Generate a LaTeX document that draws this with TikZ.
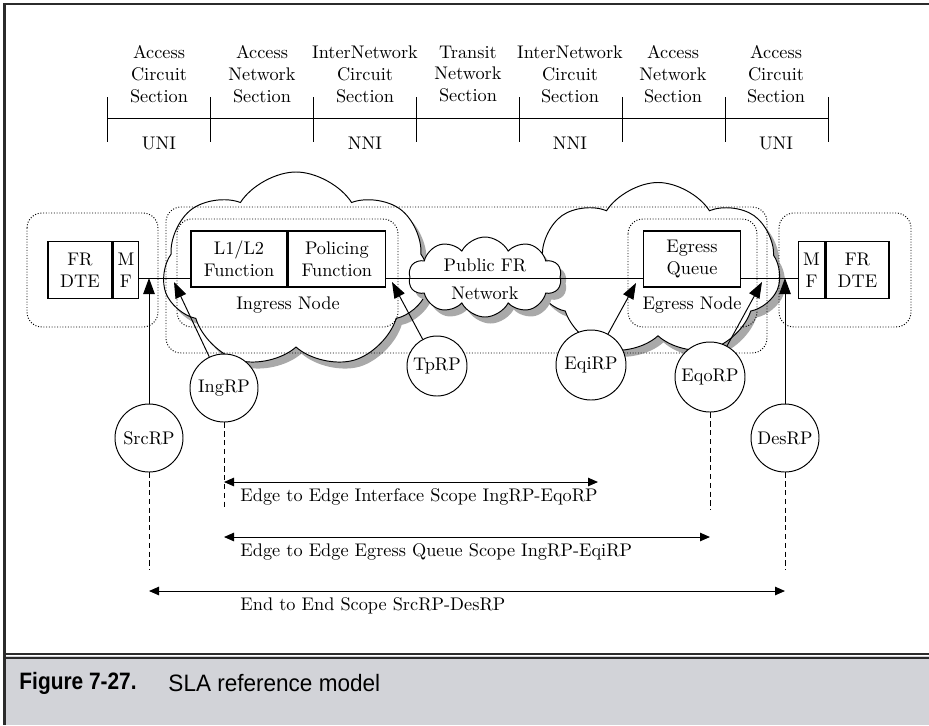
\documentclass[tikz,border=0pt]{standalone}
\usepackage{fontspec}
\usepackage{tikz}
\usetikzlibrary{calc,positioning,shapes.symbols,shadows,arrows.meta}
\newfontfamily\capfont[FakeStretch=0.95]{Liberation Sans}
\newfontfamily\capboldfont[FakeStretch=0.88]{Liberation Sans}
\definecolor{capgray}{HTML}{D2D3D8}
\definecolor{framedark}{HTML}{2B2B2B}
\definecolor{puffshadow}{HTML}{A9A9A9}

\begin{document}
\begin{tikzpicture}[x=0.2mm,y=-0.2mm,line width=0.55pt,
    font=\fontsize{10.4}{12.5}\selectfont,
    lbl/.style={align=center,inner sep=0pt},
    fnbox/.style={draw,fill=white,align=center,inner sep=1pt,line width=0.8pt,minimum height=11.2mm},
    zone/.style={draw,densely dotted,rounded corners=3mm},
    puff/.style={cloud,draw,fill=white,cloud puffs=7,cloud puff arc=115,
      drop shadow={shadow xshift=1.1mm,shadow yshift=-1.3mm,fill=puffshadow,opacity=1}},
    rp/.style={circle,draw,fill=white,minimum size=13.6mm,inner sep=0pt},
    rparrow/.style={-{Triangle[length=3.2mm,width=2.3mm]}},
    spanarrow/.style={{Triangle[length=2mm,width=1.7mm]}-{Triangle[length=2mm,width=1.7mm]}},
    dropline/.style={dash pattern=on 3pt off 2pt}]
  \useasboundingbox (0,0) rectangle (929,725);

  % frame and caption strip
  \fill[capgray] (4,656) rectangle (929,725);
  \draw[framedark,line width=0.45mm] (929,3.7) -- (4.5,3.7) -- (4.5,725);
  \draw[framedark,line width=0.4mm] (4.5,654) -- (929,654);
  \draw[framedark,line width=0.4mm] (4.5,658) -- (929,658);
  \node[anchor=west,inner sep=0pt,font={\capboldfont\bfseries\fontsize{13.5}{15}\selectfont}] (figno) at (19,683) {Figure 7-27.};
  \node[anchor=west,inner sep=0pt,font={\capfont\fontsize{13.5}{15}\selectfont}] (figtitle) at (168,683) {SLA reference model};

  % section scale
  \draw (107,118) -- (828,118);
  \foreach \x in {107,210,...,828}
    \draw (\x,97) -- (\x,142);
  \foreach \lab/\x [count=\i] in {%
    Access\\Circuit\\Section/159, Access\\Network\\Section/262,
    InterNetwork\\Circuit\\Section/365, Transit\\Network\\Section/468,
    InterNetwork\\Circuit\\Section/570, Access\\Network\\Section/673,
    Access\\Circuit\\Section/776%
  } {
    \node[lbl] (sec\i) at (\x,74) {\lab};
  }
  \foreach \lab/\x [count=\i] in {UNI/159, NNI/365, NNI/570, UNI/776}
    \node[lbl] (itf\i) at (\x,143) {\lab};

  % network clouds
  \node[puff,minimum width=53.4mm,minimum height=39.6mm] (ingcloud) at (296,271) {};
  \node[puff,minimum width=49mm,minimum height=35mm,shape border rotate=20] (egrcloud) at (658,270) {};
  \node[puff,cloud puffs=10,cloud puff arc=125,minimum width=30.6mm,minimum height=16mm] (pubcloud) at (485,277) {};
  \node[lbl] (pubtop) at (485,265) {Public FR};
  \node[lbl] (pubbot) at (485,293) {Network};

  % dotted zones
  \draw[zone] (27,213) rectangle (158,327);
  \draw[zone] (166,207) rectangle (767,353);
  \draw[zone] (177,219) rectangle (398,327);
  \draw[zone] (628,219) rectangle (757,327);
  \draw[zone] (779,213) rectangle (911,327);

  % function boxes
  \node[fnbox,minimum width=12.8mm,minimum height=11.4mm] (ldte) at (80,270) {FR\\DTE};
  \node[fnbox,minimum width=5mm,minimum height=11.4mm,anchor=west] (lmf) at (ldte.east) {M\\F};
  \node[fnbox,minimum width=19.2mm] (l12) at (239,259) {L1/L2\\Function};
  \node[fnbox,minimum width=19.4mm,anchor=west] (police) at (l12.east) {Policing\\Function};
  \node[fnbox,minimum width=19.4mm] (queue) at (692,259) {Egress\\Queue};
  \node[fnbox,minimum width=12.6mm,minimum height=11.4mm] (rdte) at (857.5,270) {FR\\DTE};
  \node[fnbox,minimum width=5.2mm,minimum height=11.4mm,anchor=east] (rmf) at (rdte.west) {M\\F};
  \node[lbl] (ingname) at (288,305) {Ingress Node};
  \node[lbl] (egrname) at (692,305) {Egress Node};

  % data path
  \coordinate (wire) at (0,278);
  \draw (lmf.east |- wire) -- (l12.west |- wire);
  \draw (police.east |- wire) -- (queue.west |- wire);
  \draw (queue.east |- wire) -- (rmf.west |- wire);

  % reference points
  \node[rp] (srcrp) at (149,438) {SrcRP};
  \node[rp] (ingrp) at (224,388) {IngRP};
  \node[rp,minimum size=12mm] (tprp) at (437,366) {TpRP};
  \node[rp,minimum size=14mm] (eqirp) at (591,365) {EqiRP};
  \node[rp,minimum size=14mm] (eqorp) at (710,377) {EqoRP};
  \node[rp] (desrp) at (785,438) {DesRP};

  \coordinate (ingtap) at (174,282);
  \coordinate (tptap) at (392,282);
  \coordinate (eqitap) at (636,283);
  \coordinate (eqotap) at (762,282);
  \draw[rparrow] (srcrp) -- (srcrp |- wire);
  \draw[rparrow] (ingrp) -- (ingtap);
  \draw[rparrow] (tprp) -- (tptap);
  \draw[rparrow] (eqirp) -- (eqitap);
  \draw[rparrow] (eqorp) -- (eqotap);
  \draw[rparrow] (desrp) -- (desrp |- wire);

  % scopes
  \coordinate (midcut) at (0,510);
  \coordinate (lowcut) at (0,570);
  \draw[dropline] (srcrp.south) -- (srcrp.south |- lowcut);
  \draw[dropline] (ingrp.south) -- (ingrp.south |- midcut);
  \draw[dropline] (eqorp.south) -- (eqorp.south |- midcut);
  \draw[dropline] (desrp.south) -- (desrp.south |- lowcut);

  \coordinate (ifend) at (598,482);
  \draw[spanarrow] (ingrp |- ifend) -- (ifend);
  \node[lbl,anchor=west] (ifscope) at (240,497) {Edge to Edge Interface Scope IngRP-EqoRP};
  \draw[spanarrow] (ingrp |- 0,537) -- (eqorp |- 0,537);
  \node[lbl,anchor=west] (eqscope) at (240,552) {Edge to Edge Egress Queue Scope IngRP-EqiRP};
  \draw[spanarrow] (srcrp |- 0,591) -- (desrp |- 0,591);
  \node[lbl,anchor=west] (eescope) at (240,606) {End to End Scope SrcRP-DesRP};
\end{tikzpicture}
\end{document}
